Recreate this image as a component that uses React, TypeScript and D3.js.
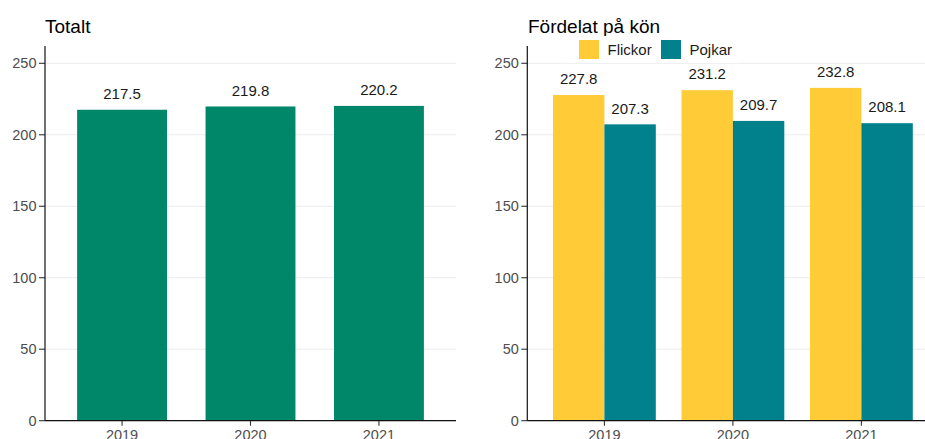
import React from "react";
import * as d3 from "d3";

const years = ["2019", "2020", "2021"];
const totalValues = [217.5, 219.8, 220.2];
const flickorValues = [227.8, 231.2, 232.8];
const pojkarValues = [207.3, 209.7, 208.1];
const yTicks = [0, 50, 100, 150, 200, 250];
const seriesNames = ["Flickor", "Pojkar"];

const W = 925;
const H = 439;
const FONT = "'Liberation Sans', Arial, sans-serif";
const GREEN = "#00876A";
const YELLOW = "#FFCB37";
const TEAL = "#00818C";
const GRID = "#EBEBEB";
const TICKTXT = "#4D4D4D";

const y = d3.scaleLinear().domain([0, 262.1]).range([420.7, 46]);

function fmt(v: number) {
  return d3.format(".1f")(v);
}

function YAxis({ x0, x1, gridBreak }: { x0: number; x1: number; gridBreak?: [number, number] }) {
  return (
    <g>
      {yTicks.map((t) => (
        <g key={t}>
          <line x1={x0} x2={x1} y1={y(t)} y2={y(t)} stroke={GRID} strokeWidth={1.1} />
          <line x1={x0 - 6} x2={x0} y1={y(t)} y2={y(t)} stroke="#333" strokeWidth={1.1} />
          <text
            x={x0 - 8.5}
            y={y(t)}
            dy="0.35em"
            textAnchor="end"
            fontSize={14.5}
            fill={TICKTXT}
            fontFamily={FONT}
          >
            {t}
          </text>
        </g>
      ))}
    </g>
  );
}

export default function App() {
  // Left panel
  const lx0 = 45;
  const lx1 = 456;
  const xl = d3.scalePoint<string>().domain(years).range([lx0, lx1]).padding(0.6);
  const lstep = xl.step();
  const lbw = lstep * 0.7;

  // Right panel
  const rx0 = 527.3;
  const rx1 = rx0 + 3.2 * 128.5;
  const xr = d3.scalePoint<string>().domain(years).range([rx0, rx1]).padding(0.6);
  const rstep = xr.step();
  const rbw = rstep * 0.8;
  const sub = d3.scaleBand<string>().domain(seriesNames).range([-rbw / 2, rbw / 2]);
  const colors: Record<string, string> = { Flickor: YELLOW, Pojkar: TEAL };
  const seriesValues: Record<string, number[]> = { Flickor: flickorValues, Pojkar: pojkarValues };

  const axisBottom = y(0);

  return (
    <svg
      width={W}
      height={H}
      style={{ position: "absolute", left: 0, top: 0, background: "#fff" }}
      fontFamily={FONT}
    >
      <rect x={0} y={0} width={W} height={H} fill="#fff" />
      {/* Left panel */}
      <text x={45} y={32.7} fontSize={19} fill="#000">
        Totalt
      </text>
      <YAxis x0={lx0} x1={lx1} />
      {years.map((yr, i) => (
        <g key={yr}>
          <rect
            x={(xl(yr) as number) - lbw / 2}
            y={y(totalValues[i])}
            width={lbw}
            height={axisBottom - y(totalValues[i])}
            fill={GREEN}
          />
          <text
            x={xl(yr) as number}
            y={y(totalValues[i]) - 10.8}
            textAnchor="middle"
            fontSize={15}
            fill="#1a1a1a"
          >
            {fmt(totalValues[i])}
          </text>
          <line
            x1={xl(yr) as number}
            x2={xl(yr) as number}
            y1={axisBottom}
            y2={axisBottom + 5}
            stroke="#333"
            strokeWidth={1.1}
          />
          <text x={xl(yr) as number} y={440} textAnchor="middle" fontSize={14.5} fill={TICKTXT}>
            {yr}
          </text>
        </g>
      ))}
      <line x1={lx0} x2={lx0} y1={46} y2={axisBottom} stroke="#111" strokeWidth={1.2} />
      <line x1={lx0} x2={lx1} y1={axisBottom} y2={axisBottom} stroke="#111" strokeWidth={1.2} />

      {/* Right panel */}
      <text x={528} y={32.7} fontSize={19} fill="#000">
        Fördelat på kön
      </text>
      <YAxis x0={rx0} x1={W} />
      {years.map((yr, i) => (
        <g key={yr}>
          {seriesNames.map((s) => {
            const v = seriesValues[s][i];
            const cx = (xr(yr) as number) + (sub(s) as number);
            return (
              <g key={s}>
                <rect
                  x={cx}
                  y={y(v)}
                  width={sub.bandwidth()}
                  height={axisBottom - y(v)}
                  fill={colors[s]}
                />
                <text
                  x={cx + sub.bandwidth() / 2}
                  y={y(v) - 10.8}
                  textAnchor="middle"
                  fontSize={15}
                  fill="#1a1a1a"
                >
                  {fmt(v)}
                </text>
              </g>
            );
          })}
          <line
            x1={xr(yr) as number}
            x2={xr(yr) as number}
            y1={axisBottom}
            y2={axisBottom + 5}
            stroke="#333"
            strokeWidth={1.1}
          />
          <text x={xr(yr) as number} y={440} textAnchor="middle" fontSize={14.5} fill={TICKTXT}>
            {yr}
          </text>
        </g>
      ))}
      <line x1={rx0} x2={rx0} y1={46} y2={axisBottom} stroke="#111" strokeWidth={1.2} />
      <line x1={rx0} x2={W} y1={axisBottom} y2={axisBottom} stroke="#111" strokeWidth={1.2} />

      {/* Legend */}
      <rect x={561} y={36} width={180} height={27} fill="#fff" />
      {seriesNames.map((s, i) => {
        const lx = i === 0 ? 579 : 661;
        return (
          <g key={s}>
            <rect x={lx} y={40} width={20} height={19} fill={colors[s]} />
            <text x={lx + 28.5} y={54.5} fontSize={15} fill="#1a1a1a">
              {s}
            </text>
          </g>
        );
      })}
    </svg>
  );
}
